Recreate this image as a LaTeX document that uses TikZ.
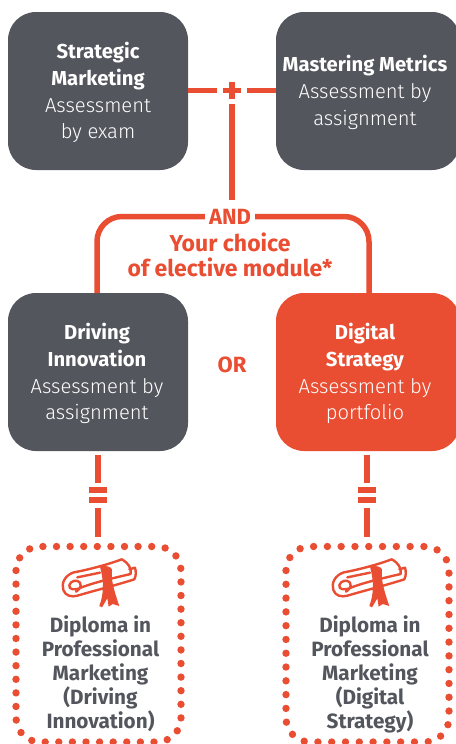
\documentclass[tikz,border=0pt]{standalone}
\usepackage{fontspec}
\setmainfont{Fira Sans}
\newfontfamily\lightf{Fira Sans Light}
\definecolor{ored}{HTML}{E94E33}
\definecolor{dgrey}{HTML}{54565E}
\tikzset{
  modbox/.style={fill=dgrey,rounded corners=28pt,draw=none},
  redbox/.style={fill=ored,rounded corners=28pt,draw=none},
  link/.style={draw=ored,line width=5.5pt},
  dots/.style={draw=ored,line width=7.4pt,line cap=round,rounded corners=24pt},
  modtext/.style={text=white,align=center,font=\fontsize{20.2}{26.8}\selectfont,inner sep=0pt},
  diptext/.style={text=dgrey,align=center,font=\fontsize{20.7}{24}\selectfont\bfseries,inner sep=0pt},
  redtext/.style={text=ored,align=center,font=\fontsize{23}{25}\selectfont\bfseries,inner sep=0pt},
  scroll/.pic={
    \begin{scope}[scale=1/3,draw=ored,line width=2.4pt,line join=round,line cap=round,fill=none]
      \draw (365,328) .. controls (320,345) and (260,360) .. (222,367) .. controls (195,375) and (183,400) .. (190,420) .. controls (196,438) and (215,442) .. (232,437) .. controls (290,420) and (350,405) .. (403,388) .. controls (409,375) and (408,365) .. (405,353) -- (388,358);
      \draw (365,328) .. controls (385,338) and (395,355) .. (392,372) .. controls (350,382) and (290,395) .. (245,412) .. controls (225,422) and (205,420) .. (208,405) .. controls (212,392) and (232,387) .. (240,398) .. controls (246,410) and (236,420) .. (228,425);
      \draw (232,382) -- (300,368);
      \fill[ored] (300,350) .. controls (318,345) and (332,350) .. (336,358) .. controls (333,385) and (338,410) .. (358,468) -- (338,462) -- (326,470) -- (322,445) -- (306,472) -- (298,468) .. controls (312,430) and (312,395) .. (300,350);
    \end{scope}
  }
}
\begin{document}
\begin{tikzpicture}[x=1pt,y=-1pt]
\useasboundingbox (0,0) rectangle (455,744);
% boxes
\node[modbox,minimum width=180pt,minimum height=158pt,inner sep=0pt] (sm) at (98,91) {};
\path[modbox] (276,12) rectangle (460,170);
\coordinate (mm) at (276,90.5);
\node[modbox,minimum width=180pt,minimum height=158pt,inner sep=0pt] (di) at (98,372) {};
\path[redbox] (276,293) rectangle (460,451);
\coordinate (ds) at (369,293);
% texts in boxes
\node[modtext] (t1) at (98,92.5) {\textbf{Strategic}\\\textbf{Marketing}\\\lightf Assessment\\\lightf by exam};
\node[modtext] (t2) at (365,92.5) {\textbf{Mastering Metrics}\\\lightf Assessment by\\\lightf assignment};
\node[modtext] (t3) at (97,373.5) {\textbf{Driving}\\\textbf{Innovation}\\\lightf Assessment by\\\lightf assignment};
\node[modtext] (t4) at (365,373.5) {\textbf{Digital}\\\textbf{Strategy}\\\lightf Assessment by\\\lightf portfolio};
% plus
\coordinate (plus) at (232,90.5);
\draw[link] (sm.east |- plus) -- ++(29,0);
\draw[link] (mm) -- ++(-29,0);
\draw[link] (223,90.5) -- (241,90.5);
\draw[link] (232,82) -- (232,99);
% AND
\node[redtext,font=\fontsize{22}{25}\selectfont\bfseries] (and) at (230,216.5) {AND};
\coordinate (andtop) at (232,200);
\draw[link] (232,104) -- (andtop);
\draw[link,rounded corners=25pt] (and.west) ++(-4,0) -- (97,216.5) -- (97,293);
\draw[link,rounded corners=25pt] (and.east) ++(4,0) -- (369,216.5) -- (ds);
\node[redtext] (choice) at (230,254.5) {Your choice\\of elective module*};
\node[redtext,font=\fontsize{22}{25}\selectfont\bfseries] (or) at (232,365) {OR};
% equals
\coordinate (e1a) at (98,455); \coordinate (e1b) at (98,483);
\coordinate (e1c) at (98,508); \coordinate (e1d) at (98,537);
\draw[link] (e1a) -- (e1b);
\draw[link] (e1c) -- (e1d);
\draw[link] (89,490) -- (107,490);
\draw[link] (89,500) -- (107,500);
\coordinate (e2a) at (367,455); \coordinate (e2b) at (367,483);
\coordinate (e2c) at (367,508); \coordinate (e2d) at (367,537);
\draw[link] (e2a) -- (e2b);
\draw[link] (e2c) -- (e2d);
\draw[link] (358,490) -- (376,490);
\draw[link] (358,500) -- (376,500);
% dotted
\draw[dots,dash pattern=on 0pt off 13.596pt] (16,546.5) rectangle (181,742);
\draw[dots,dash pattern=on 0pt off 13.79pt] (286,546.5) rectangle (449,742);
% icons
\pic at (0,450) {scroll};
\pic at (270,450) {scroll};
\node[diptext] (d1) at (100.5,674) {Diploma in\\Professional\\Marketing\\(Driving\\Innovation)};
\node[diptext] (d2) at (370,674) {Diploma in\\Professional\\Marketing\\(Digital\\Strategy)};
\end{tikzpicture}
\end{document}
